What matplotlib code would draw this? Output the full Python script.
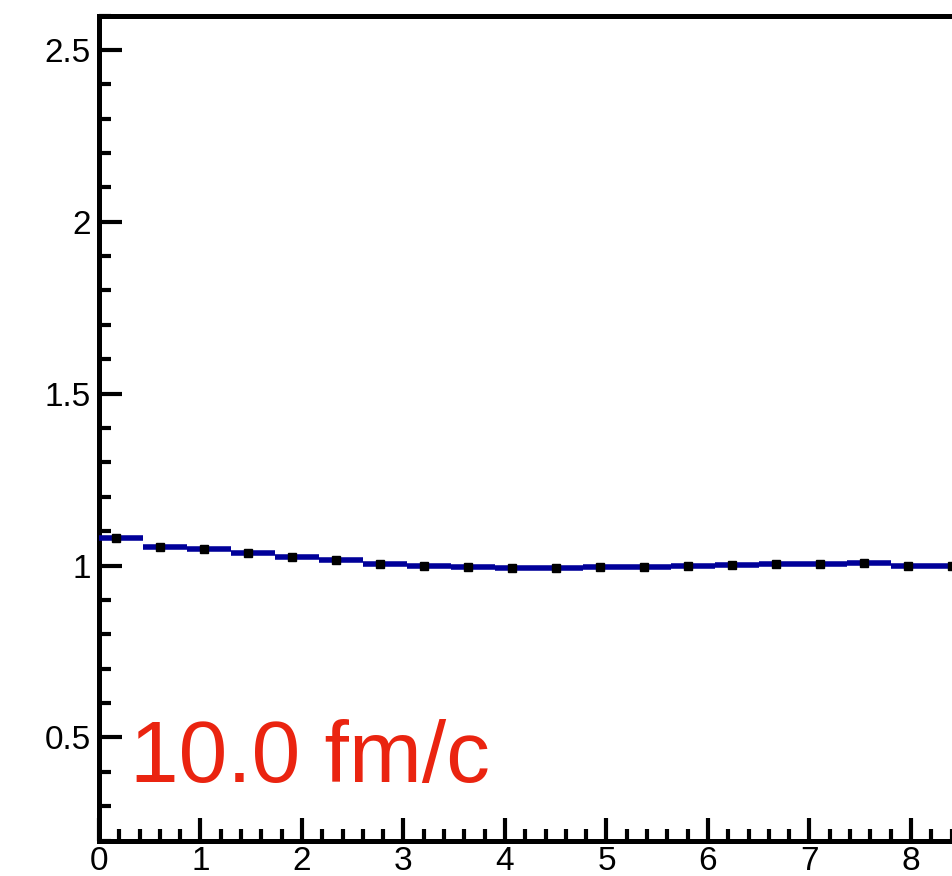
import numpy as np
import matplotlib
matplotlib.use("Agg")
import matplotlib.pyplot as plt
from matplotlib.ticker import MultipleLocator, FuncFormatter

plt.rcParams["font.family"] = ["Liberation Sans", "DejaVu Sans"]

# Histogram binning: 30 bins over [0, 13]
bin_width = 13.0 / 30.0
n_bins = 20
bin_lo = np.arange(n_bins) * bin_width

# Bin contents
values = [1.080, 1.055, 1.049, 1.035, 1.024, 1.015, 1.005, 0.998, 0.996, 0.993,
          0.993, 0.995, 0.997, 1.000, 1.002, 1.005, 1.005, 1.007, 1.000, 0.998]
errors = [0.006, 0.003, 0.003, 0.003, 0.003, 0.003, 0.003, 0.003, 0.003, 0.003,
          0.003, 0.003, 0.003, 0.003, 0.003, 0.003, 0.003, 0.003, 0.003, 0.003]

y_ticks = [0.5, 1.0, 1.5, 2.0, 2.5]
x_ticks = list(range(0, 9))
label_text = "10.0 fm/c"

line_blue = "#000099"
text_red = "#ea2410"

fig = plt.figure(figsize=(9.53, 8.76), dpi=100)
W, H = 953.0, 876.0
px_per_unit = 101.5
ax = fig.add_axes([99 / W, 35.5 / H, 13 * px_per_unit / W, 825 / H])

centers = bin_lo + bin_width / 2
ax.errorbar(centers, values, xerr=bin_width / 2, yerr=errors, fmt="none",
            ecolor=line_blue, elinewidth=4.0, capsize=0, zorder=3)
marker_shift = 0.045
ax.plot(centers - marker_shift, values, ls="none", marker="s", ms=5.3,
        mfc="black", mec="black", zorder=4)

ax.set_xlim(0, 13)
ax.set_ylim(0.2, 2.6)

ax.xaxis.set_minor_locator(MultipleLocator(0.2))
ax.yaxis.set_minor_locator(MultipleLocator(0.1))
ax.set_yticks(y_ticks)
ax.set_xticks(x_ticks)
ax.yaxis.set_major_formatter(FuncFormatter(lambda v, p: f"{v:g}"))
ax.xaxis.set_major_formatter(FuncFormatter(lambda v, p: f"{v:g}"))

for s in ["left", "bottom", "top", "right"]:
    ax.spines[s].set_linewidth(3.6)
    ax.spines[s].set_color("black")

ax.tick_params(axis="both", which="both", direction="in", colors="black",
               top=False, right=False)
ax.tick_params(axis="both", which="major", length=16.5, width=3.0, labelsize=24)
ax.tick_params(axis="both", which="minor", length=8.5, width=3.0)
ax.tick_params(axis="y", which="major", pad=6)
ax.tick_params(axis="x", which="major", pad=4)

ax.text(0.31, 0.369, label_text, color=text_red, fontsize=63,
        ha="left", va="baseline", transform=ax.transData)

fig.savefig("out.png", dpi=100)
